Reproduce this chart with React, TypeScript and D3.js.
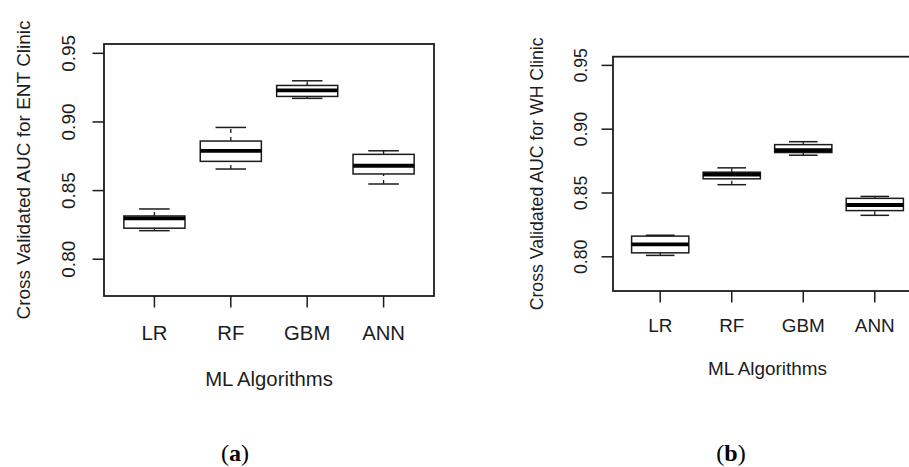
import * as d3 from 'd3';
import { useEffect, useRef } from 'react';

const width = 909;
const height = 467;

const algorithms = ['LR', 'RF', 'GBM', 'ANN'];
const yTicks = [0.8, 0.85, 0.9, 0.95];

// [whisker low, q1, median, q3, whisker high]
const entStats = [
  [0.8208, 0.8226, 0.8298, 0.8315, 0.8366],
  [0.8657, 0.8713, 0.879, 0.8861, 0.896],
  [0.9172, 0.9186, 0.923, 0.9266, 0.930],
  [0.8548, 0.8621, 0.8681, 0.8764, 0.879],
];
const whStats = [
  [0.8011, 0.8031, 0.8097, 0.8162, 0.8169],
  [0.8565, 0.8611, 0.8645, 0.8663, 0.8697],
  [0.8796, 0.8817, 0.8835, 0.8879, 0.8902],
  [0.8325, 0.8362, 0.8406, 0.8458, 0.8473],
];

const panels = [
  {
    stats: entStats,
    yTitle: 'Cross Validated AUC for ENT Clinic',
    caption: 'a',
    left: 104, right: 434, top: 44, bottom: 296,
    font: 19, xFont: 20.3, yLabelX: 74.5, yTitleX: 30, xLabelY: 339.5, xTitleY: 386, captionX: 235,
  },
  {
    stats: whStats,
    yTitle: 'Cross Validated AUC for WH Clinic',
    caption: 'b',
    left: 613, right: 922, top: 56.7, bottom: 291,
    font: 17.7, xFont: 18.9, yLabelX: 587, yTitleX: 543, xLabelY: 331.5, xTitleY: 375, captionX: 731,
  },
];

const ink = '#1c1c1c';

const BoxPlots = () => {
  const svgRef = useRef<SVGSVGElement>(null);

  useEffect(() => {
    const svg = d3.select(svgRef.current);
    svg.selectAll('*').remove();

    panels.forEach((p) => {
      const g = svg.append('g');
      const x = d3.scaleLinear().domain([0.34, 4.66]).range([p.left, p.right]);
      const y = d3.scaleLinear().domain([0.7732, 0.9568]).range([p.bottom, p.top]);
      const font = 'Liberation Sans, Arial, Helvetica, sans-serif';

      // frame
      g.append('rect')
        .attr('x', p.left).attr('y', p.top)
        .attr('width', p.right - p.left).attr('height', p.bottom - p.top)
        .attr('fill', 'none').attr('stroke', ink).attr('stroke-width', 1.8);

      // y axis
      yTicks.forEach((t) => {
        g.append('line')
          .attr('x1', p.left - 11.5).attr('x2', p.left)
          .attr('y1', y(t)).attr('y2', y(t))
          .attr('stroke', ink).attr('stroke-width', 1.5);
        g.append('text')
          .attr('transform', `translate(${p.yLabelX},${y(t)}) rotate(-90)`)
          .attr('text-anchor', 'middle')
          .style('font-family', font).style('font-size', `${p.font}px`)
          .attr('fill', ink)
          .text(t.toFixed(2));
      });

      g.append('text')
        .attr('transform', `translate(${p.yTitleX},${(p.top + p.bottom) / 2}) rotate(-90)`)
        .attr('text-anchor', 'middle')
        .style('font-family', font).style('font-size', `${p.font}px`)
        .attr('fill', ink)
        .text(p.yTitle);

      // x axis
      algorithms.forEach((a, i) => {
        const cx = x(i + 1);
        g.append('line')
          .attr('x1', cx).attr('x2', cx)
          .attr('y1', p.bottom).attr('y2', p.bottom + 11.5)
          .attr('stroke', ink).attr('stroke-width', 1.5);
        g.append('text')
          .attr('x', cx).attr('y', p.xLabelY)
          .attr('text-anchor', 'middle')
          .style('font-family', font).style('font-size', `${p.xFont}px`)
          .attr('fill', ink)
          .text(a);
      });

      g.append('text')
        .attr('x', (p.left + p.right) / 2).attr('y', p.xTitleY)
        .attr('text-anchor', 'middle')
        .style('font-family', font).style('font-size', `${p.xFont}px`)
        .attr('fill', ink)
        .text('ML Algorithms');

      // boxes
      const half = x(1.4) - x(1);
      p.stats.forEach((s, i) => {
        const cx = x(i + 1);
        const [lo, q1, med, q3, hi] = s;
        const bg = g.append('g');
        // whiskers (dashed)
        [[lo, q1], [q3, hi]].forEach(([a, b]) => {
          bg.append('line')
            .attr('x1', cx).attr('x2', cx)
            .attr('y1', y(a)).attr('y2', y(b))
            .attr('stroke', ink).attr('stroke-width', 1.3)
            .attr('stroke-dasharray', '4,4');
        });
        [lo, hi].forEach((v) => {
          bg.append('line')
            .attr('x1', cx - half / 2).attr('x2', cx + half / 2)
            .attr('y1', y(v)).attr('y2', y(v))
            .attr('stroke', ink).attr('stroke-width', 1.5);
        });
        bg.append('rect')
          .attr('x', cx - half).attr('y', y(q3))
          .attr('width', half * 2).attr('height', y(q1) - y(q3))
          .attr('fill', 'white').attr('stroke', ink).attr('stroke-width', 1.5);
        bg.append('line')
          .attr('x1', cx - half).attr('x2', cx + half)
          .attr('y1', y(med)).attr('y2', y(med))
          .attr('stroke', '#000').attr('stroke-width', 3.8);
      });

      // panel caption
      const cap = svg.append('text')
        .attr('x', p.captionX).attr('y', 461)
        .attr('text-anchor', 'middle')
        .style('font-family', 'Liberation Serif, Times New Roman, serif')
        .style('font-size', '24px')
        .attr('fill', '#000');
      cap.append('tspan').text('(');
      cap.append('tspan').attr('font-weight', 'bold').text(p.caption);
      cap.append('tspan').text(')');
    });
  }, []);

  return (
    <svg
      ref={svgRef}
      width={width}
      height={height}
      style={{ position: 'absolute', left: 0, top: 0, background: '#fff' }}
    />
  );
};

export default function App() {
  return <BoxPlots />;
}
